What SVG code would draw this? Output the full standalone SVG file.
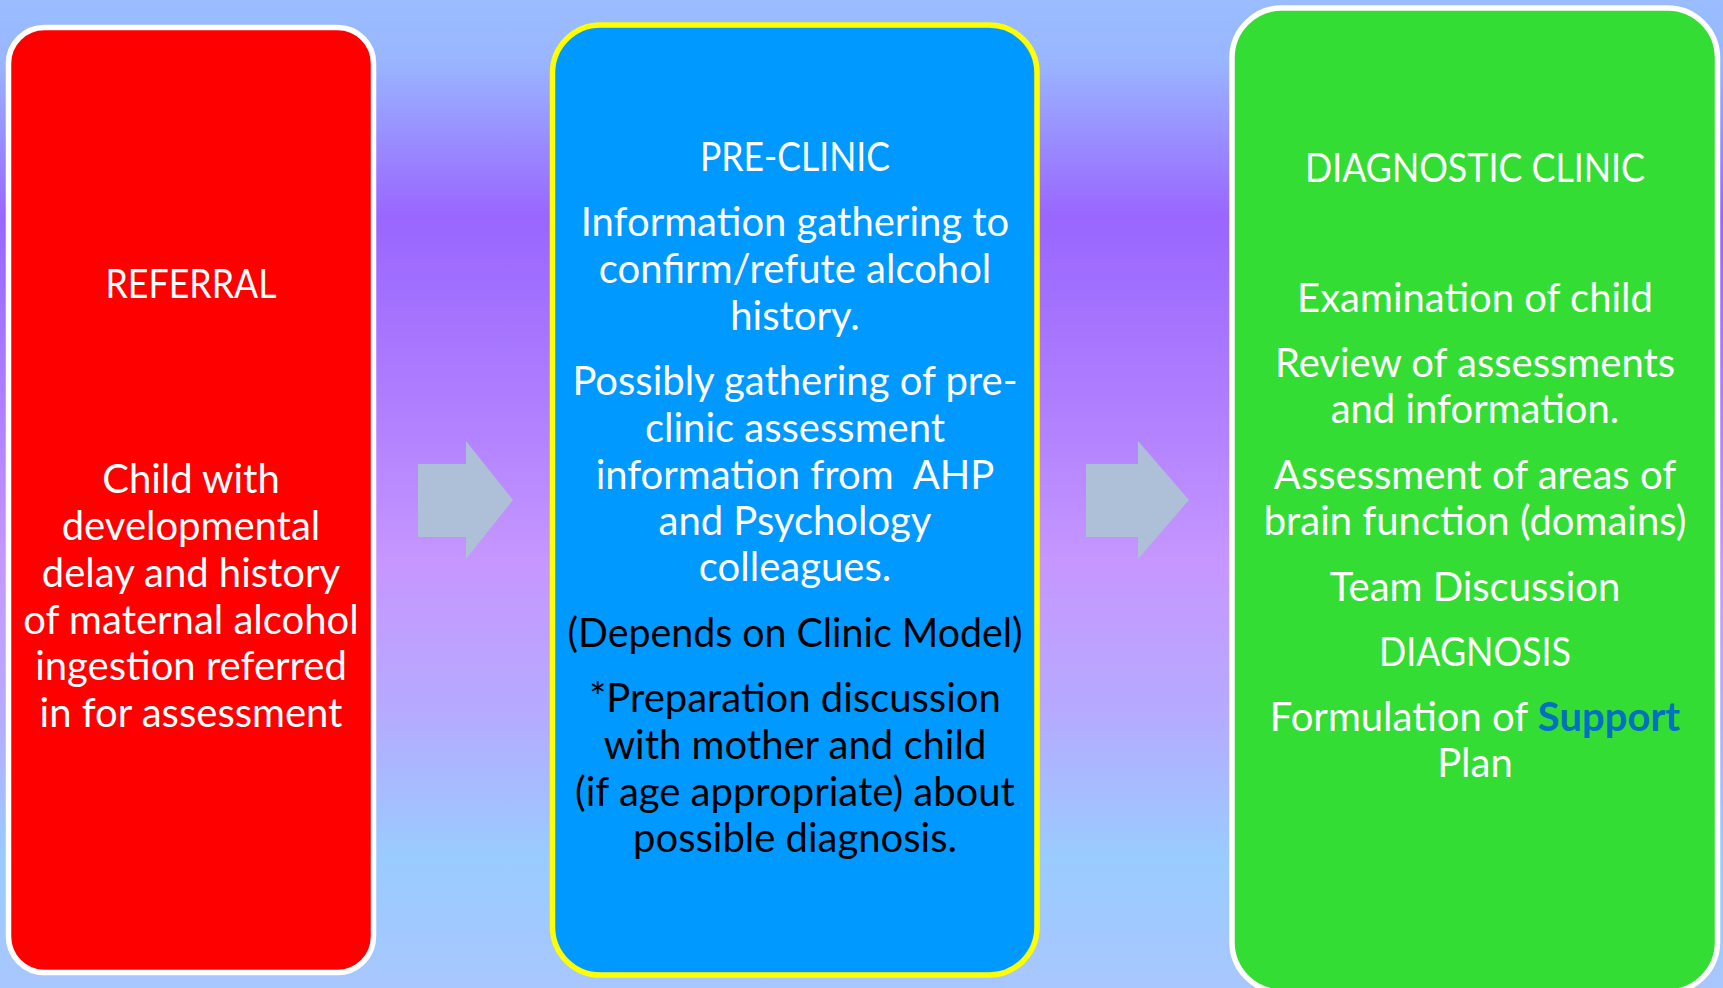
<svg xmlns="http://www.w3.org/2000/svg" width="1723" height="988" viewBox="0 0 1723 988">
  <defs>
    <linearGradient id="bg" x1="0" y1="0" x2="0" y2="1">
      <stop offset="0" stop-color="#9ABDFF"/>
      <stop offset="0.06" stop-color="#99B6FF"/>
      <stop offset="0.22" stop-color="#9966FF"/>
      <stop offset="0.42" stop-color="#B080FF"/>
      <stop offset="0.57" stop-color="#C697FF"/>
      <stop offset="0.72" stop-color="#B6AAFF"/>
      <stop offset="0.87" stop-color="#99CCFF"/>
      <stop offset="1" stop-color="#A8C6FF"/>
    </linearGradient>
  </defs>
  <style>
    .box { stroke-width: 5.5; }
    .red { fill: #FF0000; stroke: #FFFFFF; }
    .blue { fill: #0099FF; stroke: #FFFF00; }
    .green { fill: #34DD34; stroke: #FFFFFF; }
    .arrow { fill: #AEBFD8; }
    text { font-family: Lato, "Liberation Sans", sans-serif; font-size: 40px; text-anchor: middle; }
    .w { fill: #FFFFFF; }
    .k { fill: #000000; }
    .sup { fill: #0070C0; font-weight: bold; }
  </style>

  <rect x="0" y="0" width="1723" height="988" fill="url(#bg)"/>

  <!-- flow arrows between the stages -->
  <g id="connectors">
    <polygon class="arrow" points="418,464 466,464 466,441 513,500 466,559 466,537 418,537"/>
    <polygon class="arrow" points="1086,464 1138,464 1138,441 1189,500 1138,559 1138,537 1086,537"/>
  </g>

  <g id="referral">
    <rect class="box red" x="8.5" y="27.5" width="365" height="945" rx="36" ry="36"/>
    <text class="w" x="191" y="298" textLength="171" lengthAdjust="spacingAndGlyphs">REFERRAL</text>
    <text class="w" x="191" y="493">Child with</text>
    <text class="w" x="191" y="540">developmental</text>
    <text class="w" x="191" y="587">delay and history</text>
    <text class="w" x="191" y="634">of maternal alcohol</text>
    <text class="w" x="191" y="680">ingestion referred</text>
    <text class="w" x="191" y="727">in for assessment</text>
  </g>

  <g id="pre-clinic">
    <rect class="box blue" x="552.5" y="25" width="484.5" height="950" rx="48" ry="48"/>
    <text class="w" x="795" y="171" textLength="190" lengthAdjust="spacingAndGlyphs">PRE-CLINIC</text>
    <text class="w" x="795" y="236">Information gathering to</text>
    <text class="w" x="795" y="283">confirm/refute alcohol</text>
    <text class="w" x="795" y="330">history.</text>
    <text class="w" x="795" y="395">Possibly gathering of pre-</text>
    <text class="w" x="795" y="442">clinic assessment</text>
    <text class="w" x="795" y="489" xml:space="preserve">information from  AHP</text>
    <text class="w" x="795" y="535">and Psychology</text>
    <text class="w" x="795" y="581">colleagues.</text>
    <text class="k" x="795" y="647" textLength="455" lengthAdjust="spacingAndGlyphs">(Depends on Clinic Model)</text>
    <text class="k" x="795" y="712">*Preparation discussion</text>
    <text class="k" x="795" y="759">with mother and child</text>
    <text class="k" x="795" y="806">(if age appropriate) about</text>
    <text class="k" x="795" y="852">possible diagnosis.</text>
  </g>

  <g id="diagnostic-clinic">
    <rect class="box green" x="1232" y="8" width="485.5" height="984" rx="50" ry="50"/>
    <text class="w" x="1475" y="182" textLength="340" lengthAdjust="spacingAndGlyphs">DIAGNOSTIC CLINIC</text>
    <text class="w" x="1475" y="312">Examination of child</text>
    <text class="w" x="1475" y="377">Review of assessments</text>
    <text class="w" x="1475" y="423">and information.</text>
    <text class="w" x="1475" y="489">Assessment of areas of</text>
    <text class="w" x="1475" y="535">brain function (domains)</text>
    <text class="w" x="1475" y="601">Team Discussion</text>
    <text class="w" x="1475" y="666" textLength="192" lengthAdjust="spacingAndGlyphs">DIAGNOSIS</text>
    <text class="w" x="1475" y="731">Formulation of <tspan class="sup">Support</tspan></text>
    <text class="w" x="1475" y="777">Plan</text>
  </g>
</svg>
